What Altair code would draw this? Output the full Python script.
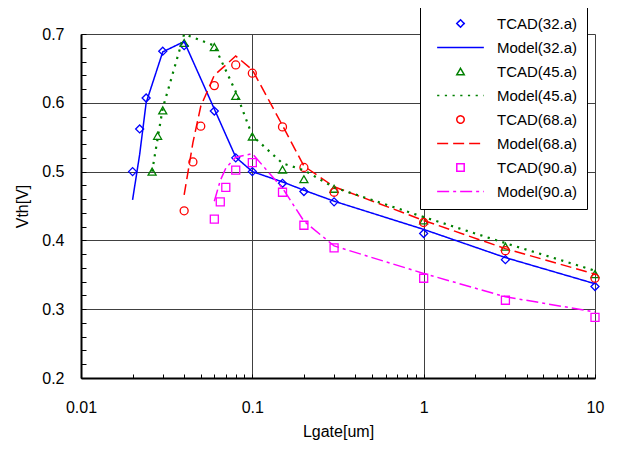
import altair as alt
import pandas as pd

# ---------------- data ----------------
series_names = ["TCAD(32.a)", "Model(32.a)", "TCAD(45.a)", "Model(45.a)",
                "TCAD(68.a)", "Model(68.a)", "TCAD(90.a)", "Model(90.a)"]
series_colors = ["#0000FF", "#0000FF", "#008000", "#008000",
                 "#FF0000", "#FF0000", "#FF00FF", "#FF00FF"]
LINE_SYMBOL = "M-6.3,0H6.3"
series_shapes = ["diamond", LINE_SYMBOL, "triangle-up", LINE_SYMBOL,
                 "circle", LINE_SYMBOL, "square", LINE_SYMBOL]
series_dashes = [[1, 0], [1, 0], [1, 0], [2.2, 5.5],
                 [1, 0], [11, 5], [1, 0], [12, 4, 3, 4]]

tcad32_L = [0.02, 0.022, 0.024, 0.03, 0.04, 0.06, 0.08, 0.1, 0.15, 0.2, 0.3, 1, 3, 10]
tcad32_V = [0.500, 0.562, 0.607, 0.675, 0.683, 0.588, 0.520, 0.500, 0.483, 0.471, 0.456, 0.410, 0.372, 0.333]
model32_L = [0.02, 0.022, 0.024, 0.03, 0.04, 0.06, 0.08, 0.1, 0.15, 0.2, 0.3, 1, 3, 10]
model32_V = [0.459, 0.525, 0.600, 0.674, 0.689, 0.591, 0.521, 0.500, 0.485, 0.473, 0.457, 0.416, 0.375, 0.337]

tcad45_L = [0.026, 0.028, 0.03, 0.04, 0.06, 0.08, 0.1, 0.15, 0.2, 0.3, 1, 3, 10]
tcad45_V = [0.500, 0.552, 0.589, 0.687, 0.681, 0.610, 0.551, 0.503, 0.489, 0.475, 0.429, 0.391, 0.351]
model45_L = [0.026, 0.028, 0.03, 0.04, 0.06, 0.08, 0.1, 0.15, 0.2, 0.3, 1, 3, 10]
model45_V = [0.500, 0.548, 0.592, 0.700, 0.683, 0.616, 0.552, 0.512, 0.502, 0.477, 0.434, 0.396, 0.356]

tcad68_L = [0.04, 0.045, 0.05, 0.06, 0.08, 0.1, 0.15, 0.2, 0.3, 1, 3, 10]
tcad68_V = [0.443, 0.514, 0.566, 0.625, 0.655, 0.643, 0.565, 0.506, 0.470, 0.426, 0.385, 0.345]
model68_L = [0.04, 0.045, 0.05, 0.06, 0.08, 0.1, 0.15, 0.2, 0.3, 1, 3, 10]
model68_V = [0.466, 0.542, 0.595, 0.640, 0.668, 0.648, 0.567, 0.508, 0.478, 0.429, 0.388, 0.351]

tcad90_L = [0.06, 0.065, 0.07, 0.08, 0.1, 0.15, 0.2, 0.3, 1, 3, 10]
tcad90_V = [0.431, 0.456, 0.477, 0.502, 0.513, 0.470, 0.422, 0.389, 0.345, 0.313, 0.288]
model90_L = [0.06, 0.065, 0.07, 0.08, 0.1, 0.15, 0.2, 0.3, 1, 3, 10]
model90_V = [0.457, 0.487, 0.505, 0.521, 0.526, 0.476, 0.428, 0.392, 0.352, 0.318, 0.296]

x_tick_values = [0.01, 0.02, 0.03, 0.04, 0.05, 0.06, 0.07, 0.08, 0.09,
                 0.1, 0.2, 0.3, 0.4, 0.5, 0.6, 0.7, 0.8, 0.9,
                 1, 2, 3, 4, 5, 6, 7, 8, 9, 10]
y_tick_values = [0.2, 0.22, 0.24, 0.26, 0.28, 0.3, 0.32, 0.34, 0.36, 0.38,
                 0.4, 0.42, 0.44, 0.46, 0.48, 0.5, 0.52, 0.54, 0.56, 0.58,
                 0.6, 0.62, 0.64, 0.66, 0.68, 0.7]

# ---------------- table ----------------
series_data = [
    ("TCAD(32.a)", tcad32_L, tcad32_V), ("Model(32.a)", model32_L, model32_V),
    ("TCAD(45.a)", tcad45_L, tcad45_V), ("Model(45.a)", model45_L, model45_V),
    ("TCAD(68.a)", tcad68_L, tcad68_V), ("Model(68.a)", model68_L, model68_V),
    ("TCAD(90.a)", tcad90_L, tcad90_V), ("Model(90.a)", model90_L, model90_V),
]
rows = []
for name, Ls, Vs in series_data:
    for l, v in zip(Ls, Vs):
        rows.append({"series": name, "L": l, "V": v,
                     "kind": "TCAD" if name.startswith("TCAD") else "Model"})
df = pd.DataFrame(rows)

FONT = "Liberation Sans"

color_scale = alt.Scale(domain=series_names, range=series_colors)
shape_scale = alt.Scale(domain=series_names, range=series_shapes)
dash_scale = alt.Scale(domain=series_names, range=series_dashes)

legend = alt.Legend(
    title=None, orient="none", legendX=339, legendY=-27, direction="vertical",
    fillColor="white", strokeColor="black", padding=9,
    labelFont=FONT, labelFontSize=15, labelColor="black",
    symbolSize=55, rowPadding=8, symbolOffset=24, labelOffset=29,
    symbolStrokeWidth=1.5,
)

x_major = "abs(log(datum.value)/LN10 - round(log(datum.value)/LN10)) < 0.001"
y_major = "abs(datum.value*10 - round(datum.value*10)) < 0.001"

x_enc = alt.X(
    "L:Q", title="Lgate[um]",
    scale=alt.Scale(type="log", domain=[0.01, 10], nice=False),
    axis=alt.Axis(
        values=x_tick_values,
        labelExpr=f"({x_major}) ? toString(datum.value) : ''",
        labelFlush=False, labelOverlap=False,
        gridOpacity={"condition": {"test": x_major, "value": 1}, "value": 0},
        tickSize={"expr": "-4"}, labelPadding=25, titlePadding=8,
    ),
)
y_enc = alt.Y(
    "V:Q", title="Vth[V]",
    scale=alt.Scale(domain=[0.2, 0.7], zero=False, nice=False),
    axis=alt.Axis(
        values=y_tick_values,
        labelExpr=f"({y_major}) ? format(datum.value, '.1f') : ''",
        labelOverlap=False,
        gridOpacity={"condition": {"test": y_major, "value": 1}, "value": 0},
        tickSize={"expr": "-5"}, labelPadding=22, titlePadding=11,
    ),
)

base = alt.Chart(df)

points = base.transform_filter(alt.datum.kind == "TCAD").mark_point(
    filled=False, size=64, strokeWidth=1.3, opacity=1
).encode(
    x=x_enc, y=y_enc,
    color=alt.Color("series:N", scale=color_scale, legend=legend),
    shape=alt.Shape("series:N", scale=shape_scale, legend=legend),
)

lines_thin = base.transform_filter(
    (alt.datum.kind == "Model") & (alt.datum.series != "Model(45.a)")
).mark_line(strokeWidth=1.5).encode(
    x=x_enc, y=y_enc,
    color=alt.Color("series:N", scale=color_scale, legend=legend),
    strokeDash=alt.StrokeDash("series:N", scale=dash_scale, legend=legend),
)

lines_thick = base.transform_filter(
    alt.datum.series == "Model(45.a)"
).mark_line(strokeWidth=2.2).encode(
    x=x_enc, y=y_enc,
    color=alt.Color("series:N", scale=color_scale, legend=legend),
    strokeDash=alt.StrokeDash("series:N", scale=dash_scale, legend=legend),
)

chart = alt.layer(points, lines_thin, lines_thick).properties(
    width=514, height=344,
    autosize=alt.AutoSizeParams(type="none"),
    padding={"left": 73, "top": 26, "right": 21, "bottom": 63},
    background="white",
).configure_view(
    stroke="transparent"
).configure_axis(
    labelFont=FONT, labelFontSize=16, labelColor="black",
    titleFont=FONT, titleFontSize=16, titleFontWeight="normal", titleColor="black",
    domainColor="black", domainWidth=2,
    gridColor="#404040", gridWidth=1,
    tickColor="black", tickWidth=1,
)

chart.save("out.html", embed_options={"renderer": "svg", "actions": False})
